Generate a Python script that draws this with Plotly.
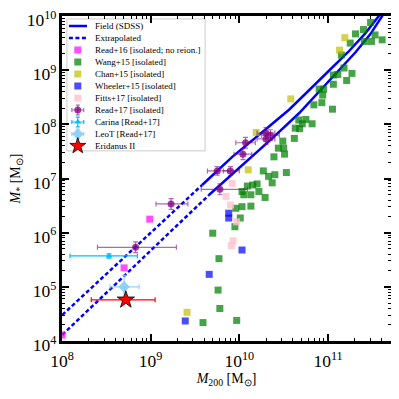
import numpy as np
import plotly.graph_objects as go

# all values are log10(M200), log10(M*)
field_hi_x = [9.58, 9.92, 10.26, 10.56, 10.78, 11.01, 11.23, 11.42, 11.57, 11.62]
field_hi_y = [6.88, 7.40, 7.86, 8.27, 8.62, 8.98, 9.34, 9.68, 9.99, 10.1]
field_lo_x = [9.66, 10.00, 10.37, 10.67, 10.86, 11.08, 11.31, 11.48, 11.60, 11.65]
field_lo_y = [6.70, 7.20, 7.74, 8.20, 8.54, 8.93, 9.33, 9.67, 9.99, 10.1]
extrap_hi_x = [7.95, 9.58]
extrap_hi_y = [4.40, 6.88]
extrap_lo_x = [7.95, 9.66]
extrap_lo_y = [4.03, 6.70]

read16_x = [8.99, 8.70, 8.00]
read16_y = [6.25, 5.35, 4.11]

wang15_x = [9.70, 9.95, 9.77, 9.76, 9.78, 9.59, 9.97, 10.01, 10.09, 10.20, 10.15, 10.03,
            10.05, 10.13, 10.22, 10.29, 10.03, 10.13, 9.96, 10.27, 10.33, 10.40, 10.37,
            10.53, 10.39, 10.44, 10.49, 10.50, 10.51, 10.62, 10.67, 10.71, 10.75, 10.63,
            10.68, 10.82, 10.84, 10.93, 10.94, 10.90, 10.95, 11.05, 11.06, 11.06, 11.11,
            11.18, 11.21, 11.27, 11.15, 11.25, 11.41, 11.49, 11.61, 11.31, 11.40, 11.53, 11.48]
wang15_y = [5.99, 6.11, 5.52, 4.94, 4.60, 4.34, 4.38, 6.27, 6.86, 6.90, 6.88, 6.76,
            6.70, 6.70, 6.76, 6.65, 6.48, 6.49, 6.45, 7.14, 7.04, 7.07, 6.92,
            7.11, 7.40, 7.56, 7.69, 7.56, 7.45, 7.74, 8.08, 8.01, 8.09, 7.93,
            7.92, 8.01, 8.36, 8.40, 8.54, 8.65, 8.65, 8.28, 8.74, 8.91, 8.92,
            9.04, 8.81, 8.94, 9.28, 9.50, 9.53, 9.53, 9.56, 9.67, 9.75, 9.65, 9.88]

chan15_x = [10.58, 11.13, 11.19, 10.19, 10.10, 9.41]
chan15_y = [8.47, 9.37, 9.60, 7.85, 7.16, 4.53]

wheeler15_x = [9.88, 9.88, 10.03, 9.66, 9.39]
wheeler15_y = [6.36, 6.27, 5.68, 5.23, 4.37]

fitts17_x = [9.92, 9.85, 9.90, 9.97, 9.93, 9.91]
fitts17_y = [6.91, 6.67, 6.51, 6.20, 5.85, 5.76]

read17_x = [8.83, 9.23, 9.78, 9.75, 9.90, 10.04, 10.07, 10.30, 10.35, 10.30]
read17_y = [5.73, 6.53, 6.80, 7.14, 7.14, 7.45, 7.66, 7.84, 7.80, 7.73]
read17_xlo = [8.40, 9.06, 9.57, 9.64, 9.82, 9.94, 9.96, 10.20, 10.25, 10.20]
read17_xhi = [9.29, 9.42, 10.09, 9.87, 10.00, 10.14, 10.18, 10.40, 10.45, 10.40]
read17_yerr = [0.10, 0.10, 0.10, 0.08, 0.08, 0.10, 0.10, 0.10, 0.10, 0.10]

carina = dict(x=8.53, y=5.57, xlo=8.09, xhi=8.85, ylo=5.53, yhi=5.61)
leot = dict(x=8.70, y=5.00, xlo=8.54, xhi=8.87, ylo=4.80, yhi=5.21)
eri2 = dict(x=8.72, y=4.76, xlo=8.33, xhi=9.05)

legend_names = ["Field (SDSS)", "Extrapolated", "Read+16 [isolated; no reion.]",
                "Wang+15 [isolated]", "Chan+15 [isolated]", "Wheeler+15 [isolated]",
                "Fitts+17 [isolated]", "Read+17 [isolated]", "Carina [Read+17]",
                "LeoT [Read+17]", "Eridanus II"]

SERIF = "Liberation Serif"


def lin(v):
    return 10 ** np.asarray(v, dtype=float)


def squares(x, y, color):
    return go.Scatter(x=lin(x), y=lin(y), mode="markers",
                      marker=dict(symbol="square", size=7, color=color, line=dict(width=0)),
                      showlegend=False, hoverinfo="skip")


fig = go.Figure()

line_style = dict(color="#0000ff", width=2.5)
dash_style = dict(color="#0000ff", width=2.5, dash="4px,2.5px")
fig.add_trace(go.Scatter(x=lin(extrap_hi_x), y=lin(extrap_hi_y), mode="lines", line=dash_style, showlegend=False))
fig.add_trace(go.Scatter(x=lin(extrap_lo_x), y=lin(extrap_lo_y), mode="lines", line=dash_style, showlegend=False))
fig.add_trace(go.Scatter(x=lin(field_hi_x), y=lin(field_hi_y), mode="lines", line=line_style, showlegend=False))
fig.add_trace(go.Scatter(x=lin(field_lo_x), y=lin(field_lo_y), mode="lines", line=line_style, showlegend=False))

fig.add_trace(squares(read16_x, read16_y, "rgba(255,0,255,0.7)"))
fig.add_trace(squares(wang15_x, wang15_y, "rgba(0,128,0,0.72)"))
fig.add_trace(squares(chan15_x, chan15_y, "rgba(191,191,0,0.7)"))
fig.add_trace(squares(wheeler15_x, wheeler15_y, "rgba(0,0,255,0.7)"))
fig.add_trace(squares(fitts17_x, fitts17_y, "rgba(255,192,203,0.8)"))

# Read+17 with error bars
rx, ry = lin(read17_x), lin(read17_y)
ye = np.array(read17_yerr)
fig.add_trace(go.Scatter(
    x=rx, y=ry, mode="markers",
    marker=dict(symbol="circle", size=7, color="rgba(128,0,128,0.75)"),
    error_x=dict(type="data", symmetric=False, array=lin(read17_xhi) - rx,
                 arrayminus=rx - lin(read17_xlo), color="rgba(128,0,128,0.6)", thickness=1.2, width=2.5),
    error_y=dict(type="data", symmetric=False, array=lin(np.array(read17_y) + ye) - ry,
                 arrayminus=ry - lin(np.array(read17_y) - ye), color="rgba(128,0,128,0.6)", thickness=1.2, width=2.5),
    showlegend=False, hoverinfo="skip"))


def single(p, symbol, size, color, ecolor, edge=None):
    x, y = 10 ** p["x"], 10 ** p["y"]
    ey = None
    if "ylo" in p:
        ey = dict(type="data", symmetric=False, array=[10 ** p["yhi"] - y],
                  arrayminus=[y - 10 ** p["ylo"]], color=ecolor, thickness=1.2, width=2.5)
    return go.Scatter(
        x=[x], y=[y], mode="markers",
        marker=dict(symbol=symbol, size=size, color=color,
                    line=dict(width=0.8 if edge else 0, color=edge or color)),
        error_x=dict(type="data", symmetric=False, array=[10 ** p["xhi"] - x],
                     arrayminus=[x - 10 ** p["xlo"]], color=ecolor, thickness=1.2, width=2.5),
        error_y=ey, showlegend=False, hoverinfo="skip")


fig.add_trace(single(carina, "triangle-up", 6, "deepskyblue", "deepskyblue"))
fig.add_trace(single(leot, "diamond", 9, "rgba(135,206,250,0.9)", "rgba(135,206,250,0.9)"))
fig.add_trace(single(eri2, "star", 13, "red", "red", edge="black"))

# hand-made legend on an overlay axis in plot fraction units
ly = [(341 - py) / 325 for py in [26, 38, 50, 62, 74, 86, 98, 110, 122, 134, 146]]
sx = 0.048
fig.add_trace(go.Scatter(x=[0.021, 0.076], y=[ly[0]] * 2, mode="lines", line=line_style,
                         xaxis="x2", yaxis="y2", showlegend=False, hoverinfo="skip"))
fig.add_trace(go.Scatter(x=[0.021, 0.076], y=[ly[1]] * 2, mode="lines", line=dash_style,
                         xaxis="x2", yaxis="y2", showlegend=False, hoverinfo="skip"))
sq_cols = ["rgba(255,0,255,0.7)", "rgba(0,128,0,0.72)", "rgba(191,191,0,0.7)",
           "rgba(0,0,255,0.7)", "rgba(255,192,203,0.8)"]
fig.add_trace(go.Scatter(x=[sx] * 5, y=ly[2:7], mode="markers",
                         marker=dict(symbol="square", size=7, color=sq_cols),
                         xaxis="x2", yaxis="y2", showlegend=False, hoverinfo="skip"))
err_kw = dict(type="constant", value=0.018, thickness=1.2, width=2)
fig.add_trace(go.Scatter(x=[sx], y=[ly[7]], mode="markers",
                         marker=dict(size=7, color="rgba(128,0,128,0.75)"),
                         error_x=dict(color="rgba(128,0,128,0.6)", **err_kw),
                         error_y=dict(type="constant", value=0.015, thickness=1.2, width=2,
                                      color="rgba(128,0,128,0.6)"),
                         xaxis="x2", yaxis="y2", showlegend=False, hoverinfo="skip"))
fig.add_trace(go.Scatter(x=[sx], y=[ly[8]], mode="markers",
                         marker=dict(symbol="triangle-up", size=6, color="deepskyblue"),
                         error_x=dict(color="deepskyblue", **err_kw),
                         error_y=dict(type="constant", value=0.015, thickness=1.2, width=2, color="deepskyblue"),
                         xaxis="x2", yaxis="y2", showlegend=False, hoverinfo="skip"))
fig.add_trace(go.Scatter(x=[sx], y=[ly[9]], mode="markers",
                         marker=dict(symbol="diamond", size=9, color="rgba(135,206,250,0.9)"),
                         error_x=dict(color="rgba(135,206,250,0.9)", **err_kw),
                         error_y=dict(type="constant", value=0.015, thickness=1.2, width=2,
                                      color="rgba(135,206,250,0.9)"),
                         xaxis="x2", yaxis="y2", showlegend=False, hoverinfo="skip"))
fig.add_trace(go.Scatter(x=[sx], y=[ly[10]], mode="markers",
                         marker=dict(symbol="star", size=12, color="red", line=dict(width=0.8, color="black")),
                         xaxis="x2", yaxis="y2", showlegend=False, hoverinfo="skip"))

fig.add_shape(type="rect", xref="paper", yref="paper", x0=0.015, x1=0.435, y0=0.585, y1=0.991,
              fillcolor="white", line=dict(color="#cccccc", width=1), layer="below")
for name, y in zip(legend_names, ly):
    fig.add_annotation(x=0.093, y=y, xref="paper", yref="paper", text=name, showarrow=False,
                       xanchor="left", yanchor="middle", font=dict(family=SERIF, size=9, color="black"))

axis_common = dict(
    type="log", showgrid=False, zeroline=False, showline=True, linewidth=2.5, linecolor="black",
    mirror="allticks", ticks="inside", ticklen=7, tickwidth=1.5, tickcolor="black",
    dtick=1, exponentformat="power", automargin=False, ticklabeloverflow="allow",
    tickfont=dict(family=SERIF, size=14, color="black"),
    minor=dict(ticks="inside", ticklen=3.5, tickwidth=1, tickcolor="black", dtick="D1", showgrid=False),
)

# the page body adds an 8px offset, so the figure is 391 px and margins are shifted
fig.update_layout(
    width=391, height=391,
    margin=dict(l=54, r=8, t=8, b=58),
    plot_bgcolor="white", paper_bgcolor="white",
    font=dict(family=SERIF, color="black"),
    xaxis=dict(range=[8, 11.71], ticklabelstandoff=3,
               title=dict(text="<i>M</i><sub>200</sub> [M<sub>⊙</sub>]", font=dict(family=SERIF, size=14),
                          standoff=0),
               **axis_common),
    yaxis=dict(range=[4, 10], ticklabelshift=4,
               title=dict(text="<i>M</i><sub>*</sub> [M<sub>⊙</sub>]", font=dict(family=SERIF, size=14),
                          standoff=10),
               **axis_common),
    xaxis2=dict(overlaying="x", range=[0, 1], visible=False, fixedrange=True),
    yaxis2=dict(overlaying="y", range=[0, 1], visible=False, fixedrange=True),
    showlegend=False,
)

fig.write_html("out.html")
